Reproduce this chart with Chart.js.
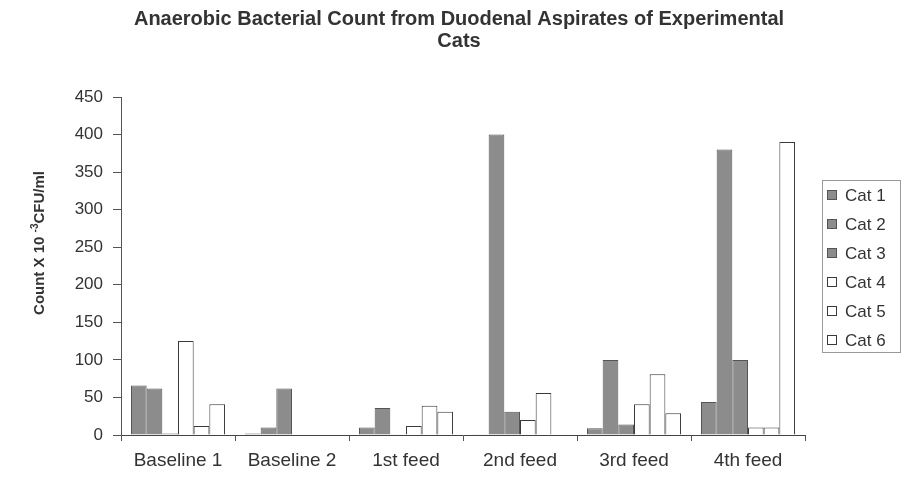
<!DOCTYPE html>
<html>
<head>
  <meta charset="UTF-8">
  <title>Anaerobic Bacterial Count</title>
  <script src="https://cdn.jsdelivr.net/npm/chart.js"></script>
  <style>
    body {
      margin: 0;
      background: #fff;
    }
    .wrap {
      width: 910px;
      height: 490px;
    }
  </style>
</head>
<body>
  <div class="wrap">
    <canvas id="chart" width="910" height="490"></canvas>
  </div>

  <script>
    // datos
    const categories = ['Baseline 1', 'Baseline 2', '1st feed', '2nd feed', '3rd feed', '4th feed'];
    const seriesNames = ['Cat 1', 'Cat 2', 'Cat 3', 'Cat 4', 'Cat 5', 'Cat 6'];
    const cat1 = [66, 2, 10, 1, 9, 44];
    const cat2 = [62, 10, 36, 400, 100, 380];
    const cat3 = [2, 62, 1, 31, 14, 100];
    const cat4 = [125, 0, 12, 20, 41, 10];
    const cat5 = [12, 0, 39, 56, 81, 10];
    const cat6 = [41, 0, 31, 1, 29, 390];
    const yTicks = [0, 50, 100, 150, 200, 250, 300, 350, 400, 450];

    const titleLines = ['Anaerobic Bacterial Count from Duodenal Aspirates of Experimental', 'Cats'];

    const FONT = "'Liberation Sans', Arial, sans-serif";
    const TEXT = '#333';
    const gris = '#8c8c8c';
    const blanco = '#ffffff';

    Chart.defaults.font.family = FONT;
    Chart.defaults.color = TEXT;

    const allSeries = [cat1, cat2, cat3, cat4, cat5, cat6];
    const fills = [gris, gris, gris, blanco, blanco, blanco];

    const datasets = allSeries.map((vals, i) => ({
      label: seriesNames[i],
      data: vals,
      backgroundColor: fills[i],
      borderColor: i < 3 ? '#555' : '#3a3a3a',
      borderWidth: 1,
      categoryPercentage: 0.825,
      barPercentage: 1.0
    }));

    // titulo centrado sobre todo el lienzo (no solo el area util)
    const chartTitle = {
      id: 'chartTitle',
      afterDraw(chart) {
        const c = chart.ctx;
        c.save();
        c.fillStyle = TEXT;
        c.font = 'bold 20px ' + FONT;
        c.textAlign = 'center';
        c.textBaseline = 'middle';
        titleLines.forEach((t, i) => c.fillText(t, 459, 19 + i * 22));
        c.restore();
      }
    };

    // leyenda dibujada a mano para ubicarla como en el original
    const legendBox = {
      id: 'legendBox',
      afterDraw(chart) {
        const c = chart.ctx;
        c.save();
        c.strokeStyle = '#999';
        c.lineWidth = 1;
        c.strokeRect(822.5, 180.5, 78, 172);
        c.font = '17px ' + FONT;
        c.textBaseline = 'middle';
        chart.data.datasets.forEach((ds, i) => {
          const y = 195 + i * 29;
          c.fillStyle = ds.backgroundColor;
          c.fillRect(827, y - 5, 10, 10);
          c.strokeStyle = ds.borderColor;
          c.strokeRect(827.5, y - 4.5, 9, 9);
          c.fillStyle = TEXT;
          c.fillText(ds.label, 845, y + 1);
        });
        c.restore();
      }
    };

    // titulo del eje y con superindice
    const yTitle = {
      id: 'yTitle',
      afterDraw(chart) {
        const c = chart.ctx;
        const a = 'Count X 10 ', sup = '-3', b = 'CFU/ml';
        c.save();
        c.translate(40, 243);
        c.rotate(-Math.PI / 2);
        c.fillStyle = TEXT;
        c.textBaseline = 'middle';
        c.font = 'bold 15px ' + FONT;
        const wa = c.measureText(a).width;
        const wb = c.measureText(b).width;
        c.font = 'bold 10px ' + FONT;
        const ws = c.measureText(sup).width;
        let x = -(wa + ws + wb) / 2;
        c.font = 'bold 15px ' + FONT;
        c.fillText(a, x, 0);
        x += wa;
        c.font = 'bold 10px ' + FONT;
        c.fillText(sup, x, -5);
        x += ws;
        c.font = 'bold 15px ' + FONT;
        c.fillText(b, x, 0);
        c.restore();
      }
    };

    new Chart(document.getElementById('chart'), {
      type: 'bar',
      data: {
        labels: categories,
        datasets: datasets
      },
      options: {
        responsive: false,
        animation: false,
        layout: {
          padding: { left: 0, right: 105, top: 97, bottom: 0 }
        },
        plugins: {
          legend: { display: false },
          tooltip: { enabled: false },
          title: { display: false }
        },
        scales: {
          x: {
            grid: { offset: true, drawOnChartArea: false, tickLength: 6, color: '#555' },
            border: { display: true, color: '#444' },
            ticks: { font: { size: 19 }, color: TEXT, padding: 8 },
            afterFit(s) { s.height = 55; }
          },
          y: {
            min: yTicks[0],
            max: yTicks[yTicks.length - 1],
            afterBuildTicks(s) { s.ticks = yTicks.map(v => ({ value: v })); },
            grid: { drawOnChartArea: false, tickLength: 8, color: '#555' },
            border: { display: true, color: '#555' },
            ticks: { font: { size: 17 }, color: TEXT, padding: 10 },
            afterFit(s) { s.width = 121; }
          }
        }
      },
      plugins: [chartTitle, legendBox, yTitle]
    });
  </script>
</body>
</html>
